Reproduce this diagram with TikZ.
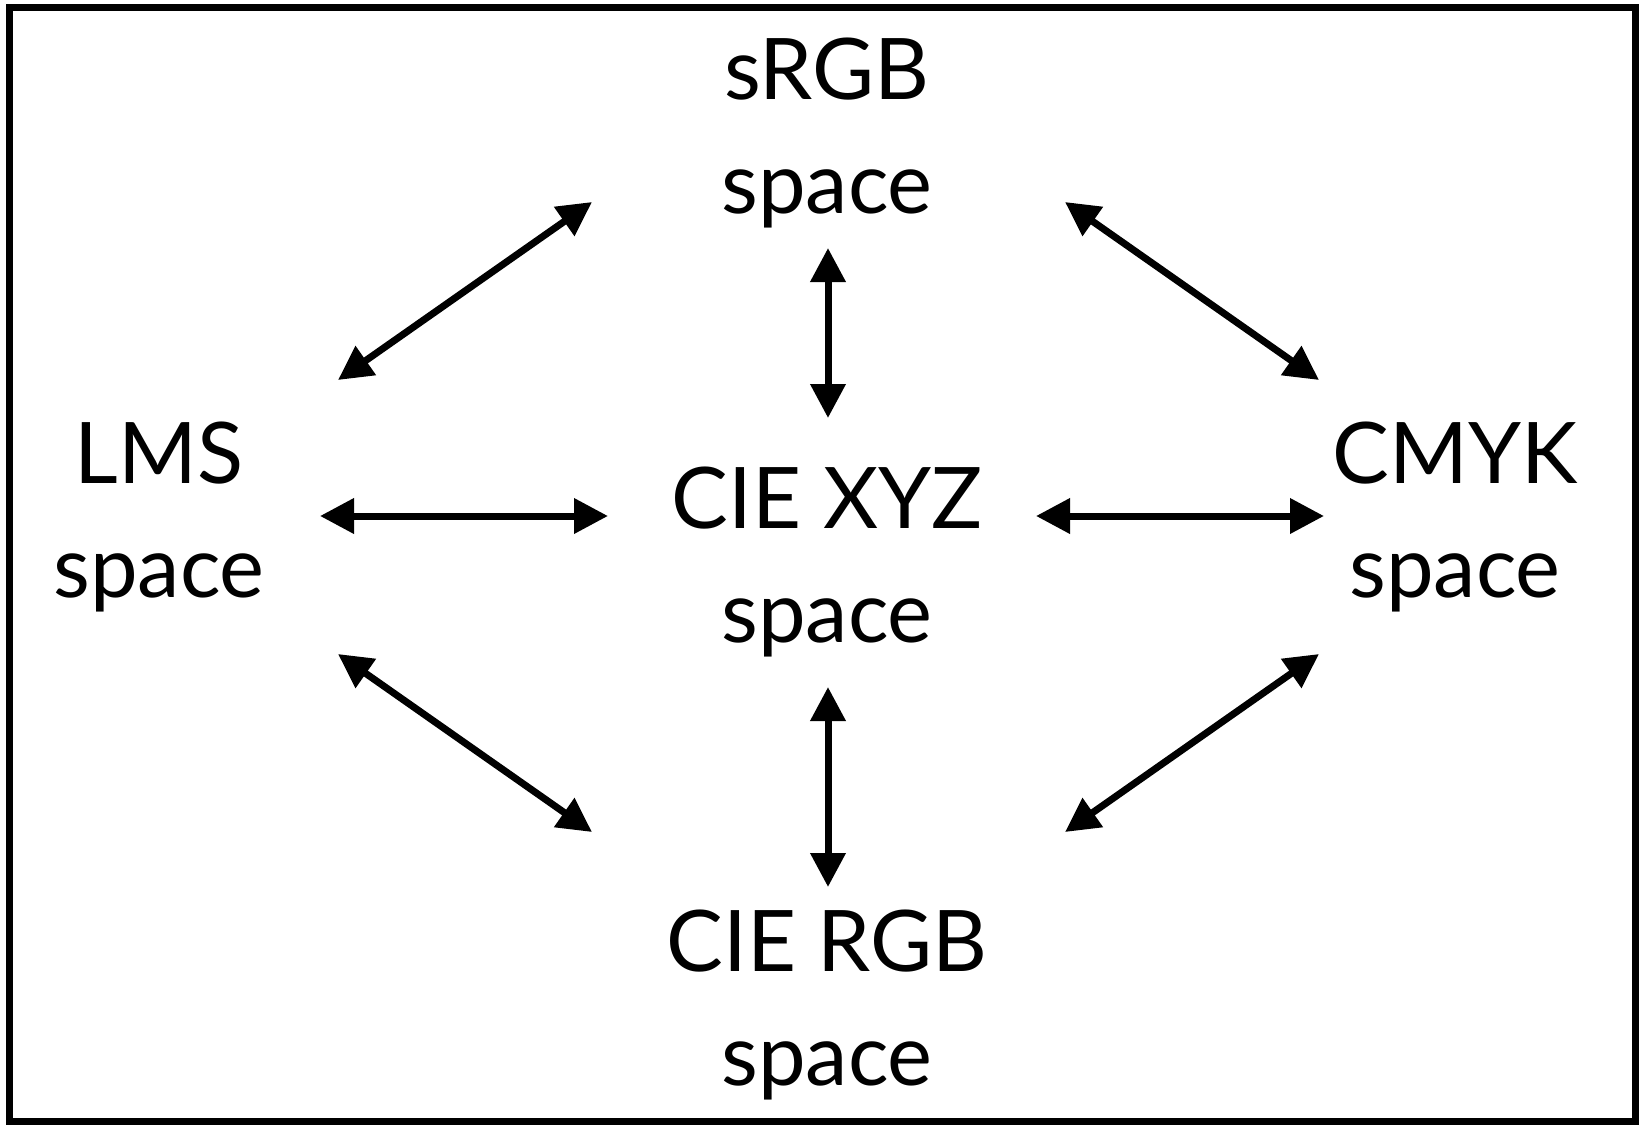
\documentclass[tikz,border=0pt]{standalone}
\usepackage{fontspec}
\setmainfont{Lato}
\usetikzlibrary{arrows.meta, calc, positioning}
\tikzset{
  %colour space node style
  cspace/.style={
    align=center
    , anchor=base
    , inner sep=0pt
    , font=\fontsize{42.5}{57}\selectfont
  },
}

\begin{document}
\begin{tikzpicture}[x=0.5pt, y=-0.5pt]
  \tikzstyle{conv}=[{Triangle[length=17pt,width=17pt]}-{Triangle[length=17pt,width=17pt]}, line width=3.5pt]
  \useasboundingbox (0,0) rectangle (1639,1125);
  \draw [line width=3.5pt] (9.5,7) rectangle (1635.5,1121.5);

  % base = baseline of the "space" line
  \node [cspace] (srgb) at (827,213) {sRGB\\space};
  \node [cspace] (lms) at (159,597) {LMS\\space};
  \node [cspace] (xyz) at (827,642) {CIE XYZ\\space};
  \node [cspace] (cmyk) at (1455,597) {CMYK\\space};
  \node [cspace] (rgb) at (827,1085) {CIE RGB\\space};

  \draw [conv] ([shift={(161,-81)}]lms.base) -- ([shift={(-219,-126)}]xyz.base);
  \draw [conv] ([shift={(209,-126)}]xyz.base) -- ([shift={(-131,-81)}]cmyk.base);

  \draw [conv] ([shift={(1,35)}]srgb.base) -- ([shift={(1,-224)}]xyz.base);
  \draw [conv] ([shift={(1,45)}]xyz.base) -- ([shift={(1,-198)}]rgb.base);

  \draw [conv] ([shift={(179,-217)}]lms.base) -- ([shift={(-235,-11)}]srgb.base);
  \draw [conv] ([shift={(238,-11)}]srgb.base) -- ([shift={(-136,-217)}]cmyk.base);
  \draw [conv] ([shift={(179,57)}]lms.base) -- ([shift={(-235,-253)}]rgb.base);
  \draw [conv] ([shift={(238,-253)}]rgb.base) -- ([shift={(-136,57)}]cmyk.base);
\end{tikzpicture}
\end{document}
